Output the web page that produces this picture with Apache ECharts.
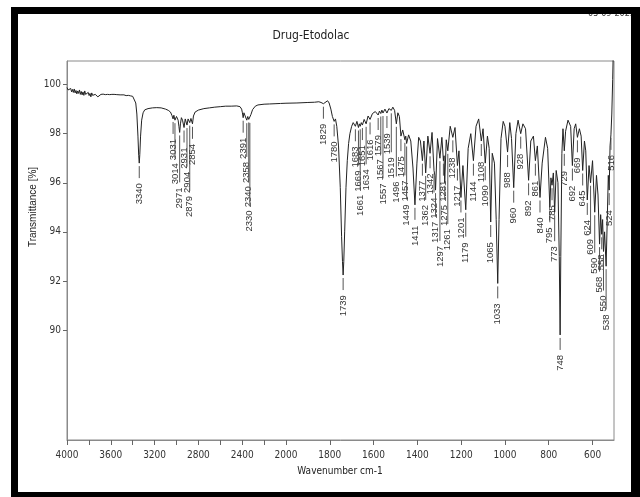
<!DOCTYPE html>
<html><head><meta charset="utf-8">
<script src="https://cdn.jsdelivr.net/npm/echarts@6/dist/echarts.min.js"></script>
<style>html,body{margin:0;padding:0;background:#fff}#c{width:640px;height:497px}</style>
</head><body><div id="c"></div>
<script>
// ---- data (wavenumber cm-1, transmittance %) ----
const wavenumbers = [4000,3990,3982,3974,3966,3958,3950,3942,3934,3926,3918,3910,3902,3894,3886,3878,3870,3862,3854,3846,3838,3830,3822,3814,3806,3798,3790,3782,3774,3766,3758,3750,3742,3734,3726,3718,3710,3700,3690,3680,3670,3660,3650,3640,3630,3620,3610,3600,3590,3580,3570,3560,3545,3530,3515,3500,3480,3460,3440,3420,3400,3385,3372,3362,3352,3345,3340,3335,3328,3318,3305,3290,3260,3220,3180,3140,3100,3075,3055,3042,3031,3024,3014,3000,2985,2978,2971,2964,2955,2945,2931,2920,2912,2904,2894,2886,2879,2868,2854,2845,2830,2800,2750,2700,2650,2600,2550,2500,2450,2420,2405,2398,2391,2384,2372,2358,2349,2340,2335,2330,2320,2305,2280,2256,2200,2150,2100,2050,2000,1950,1900,1870,1850,1840,1829,1820,1810,1803,1795,1788,1780,1774,1768,1760,1752,1746,1742,1739,1736,1732,1726,1720,1714,1708,1700,1693,1683,1676,1669,1665,1661,1656,1651,1643,1634,1625,1616,1605,1592,1579,1573,1567,1562,1557,1548,1539,1530,1524,1519,1512,1504,1496,1489,1482,1475,1467,1457,1453,1449,1440,1430,1420,1411,1402,1394,1386,1377,1370,1362,1352,1342,1333,1324,1320,1317,1308,1297,1288,1281,1278,1275,1268,1261,1250,1238,1228,1217,1210,1201,1192,1179,1168,1156,1144,1132,1120,1108,1100,1090,1080,1072,1065,1058,1048,1040,1033,1027,1018,1008,1000,988,978,970,960,950,940,928,918,906,892,882,870,861,852,840,830,815,805,795,790,785,779,773,766,758,752,748,745,740,735,729,723,712,700,692,684,677,669,660,652,645,637,631,624,616,609,600,590,582,575,568,563,558,554,550,545,538,532,528,524,520,516,512,508,504];
const transmittance = [99.88,99.78,99.86,99.75,99.84,99.70,99.80,99.68,99.82,99.66,99.76,99.62,99.74,99.64,99.78,99.60,99.72,99.58,99.70,99.56,99.74,99.60,99.66,99.52,99.68,99.55,99.64,99.50,99.66,99.56,99.62,99.52,99.60,99.54,99.62,99.50,99.58,99.53,99.60,99.55,99.61,99.54,99.59,99.55,99.60,99.56,99.59,99.55,99.60,99.57,99.60,99.56,99.59,99.56,99.58,99.56,99.58,99.55,99.56,99.54,99.52,99.45,99.25,98.80,97.90,97.10,96.80,97.15,97.90,98.55,98.85,98.97,99.02,99.05,99.06,99.05,99.00,98.95,98.88,98.75,98.60,98.75,98.55,98.70,98.55,98.30,98.05,98.40,98.65,98.55,98.25,98.60,98.55,98.35,98.60,98.55,98.45,98.62,98.40,98.72,98.88,98.96,99.02,99.05,99.08,99.10,99.12,99.12,99.13,99.10,99.00,98.85,98.65,98.85,98.78,98.55,98.70,98.58,98.66,98.56,98.78,98.98,99.12,99.17,99.20,99.21,99.22,99.23,99.24,99.25,99.27,99.28,99.30,99.27,99.22,99.30,99.34,99.25,99.00,98.70,98.50,98.60,98.30,97.50,95.80,93.80,92.80,92.24,92.80,94.00,95.80,96.90,97.60,98.00,98.30,98.45,98.30,98.50,98.25,98.40,98.30,98.45,98.35,98.58,98.40,98.72,98.58,98.82,98.90,98.76,98.92,98.82,98.96,98.84,99.00,98.84,99.02,99.06,98.95,99.08,98.95,98.40,98.85,98.70,97.90,98.15,97.75,97.90,97.60,97.95,97.70,96.60,95.10,96.80,97.85,97.70,96.90,97.70,96.40,97.90,97.20,98.05,96.50,96.30,95.70,97.80,97.00,97.85,96.90,97.10,96.00,97.75,97.30,98.30,97.85,98.25,96.70,97.30,95.40,96.70,94.90,97.40,98.00,96.90,98.30,98.60,97.70,98.20,96.80,97.90,97.40,94.40,97.20,96.80,94.50,91.90,94.50,97.80,98.50,98.30,97.25,98.45,97.80,95.80,98.00,98.55,98.00,98.40,98.20,96.10,97.70,97.90,96.90,97.50,95.40,96.80,97.85,97.40,95.00,96.20,95.90,96.40,94.80,96.50,96.00,93.00,89.80,93.00,97.20,98.20,97.30,98.10,98.55,98.30,96.70,98.20,98.40,97.85,98.20,97.90,96.50,97.70,97.30,95.30,96.70,96.00,96.90,94.80,96.30,95.50,93.50,94.70,93.90,94.50,93.20,94.00,92.60,94.80,96.30,95.70,97.50,97.95,98.80,100.20,102.00];
const peakWavenumbers = [3340,3031,3014,2971,2931,2904,2879,2854,2391,2358,2340,2330,1829,1780,1739,1683,1669,1661,1651,1634,1616,1579,1567,1557,1539,1519,1496,1475,1457,1449,1411,1377,1362,1342,1324,1317,1297,1281,1275,1261,1238,1217,1201,1179,1144,1108,1090,1065,1033,988,960,928,892,861,840,795,785,773,748,729,692,669,645,624,609,590,568,558,550,538,524,516];
const xTickLabels = [4000,3600,3200,2800,2400,2000,1800,1600,1400,1200,1000,800,600];
const xMinorTicks = [3800,3400,3000,2600,2200];
const yTickLabels = [90,92,94,96,98,100];
const chartTitle = 'Drug-Etodolac';
const xName = 'Wavenumber cm-1';
const yName = 'Transmittance [%]';
const stamp = '05-09-2022 10:50';

// axis above 2000 cm-1 is compressed 2:1
function toU(w){ return w > 2000 ? 2000 + (w - 2000) / 2 : w; }
function fromU(u){ return u > 2000 ? 2000 + (u - 2000) * 2 : u; }

const NARROW = '"Liberation Sans Narrow","DejaVu Sans Condensed","Arial Narrow",sans-serif';
const REG = '"Liberation Sans",Arial,sans-serif';

const lineData = wavenumbers.map((w, i) => [toU(w), transmittance[i]]);
const peakData = peakWavenumbers.map(w => [toU(w), transmittance[wavenumbers.indexOf(w)]]);

const GAP = 3, MINLINE = 12, TGAP = 5, DIGIT = 5.3, HSEP = 7, VSEP = 3;
let layoutCache = null;
function computeLayout(api){
  const placed = [], res = [];
  for (let i = 0; i < peakData.length; i++){
    const p = api.coord(peakData[i]);
    const len = String(peakWavenumbers[i]).length * DIGIT;
    let top = p[1] + GAP + MINLINE + TGAP;
    let moved = true;
    while (moved){
      moved = false;
      for (const q of placed){
        if (Math.abs(q.x - p[0]) < HSEP && top < q.bottom + VSEP && top + len > q.top - VSEP){
          top = q.bottom + VSEP; moved = true;
        }
      }
    }
    placed.push({x: p[0], top: top, bottom: top + len});
    res.push({x: p[0], y0: p[1] + GAP, top: top, len: len});
  }
  return res;
}

const chart = echarts.init(document.getElementById('c'), null, {renderer: 'canvas'});
chart.setOption({
  animation: false,
  backgroundColor: '#fff',
  grid: {left: 67, right: 26, top: 61, bottom: 57, show: true, borderColor: '#8a8a8a', borderWidth: 1, backgroundColor: 'transparent'},
  xAxis: {
    type: 'value', inverse: true, min: 502, max: 3000,
    axisLine: {show: true, lineStyle: {color: '#8a8a8a', width: 1}},
    axisTick: {show: true, length: 5, lineStyle: {color: '#666'}, customValues: xTickLabels.concat(xMinorTicks).map(toU)},
    axisLabel: {customValues: xTickLabels.map(toU), formatter: v => String(Math.round(fromU(v))), fontFamily: NARROW, fontSize: 10, color: '#333', margin: 10},
    splitLine: {show: false}
  },
  yAxis: {
    type: 'value', min: 85.52, max: 100.96,
    axisLine: {show: true, lineStyle: {color: '#8a8a8a', width: 1}},
    axisTick: {show: true, length: 4, lineStyle: {color: '#666'}, customValues: yTickLabels},
    axisLabel: {customValues: yTickLabels, fontFamily: NARROW, fontSize: 10, color: '#333', margin: 6},
    splitLine: {show: false}
  },
  graphic: [
    {type: 'text', z: 50, x: 311, y: 36, style: {text: chartTitle, font: '12px ' + NARROW, fill: '#222', align: 'center', verticalAlign: 'middle'}},
    {type: 'text', z: 50, x: 340, y: 471, style: {text: xName, font: '10px ' + NARROW, fill: '#222', align: 'center', verticalAlign: 'middle'}},
    {type: 'text', z: 50, x: 33, y: 207, rotation: Math.PI / 2, style: {text: yName, font: '10px ' + REG, fill: '#222', align: 'center', verticalAlign: 'middle'}},
    {type: 'text', z: 50, x: 588, y: 18, style: {text: stamp, font: '9px ' + NARROW, fill: '#333', align: 'left', verticalAlign: 'bottom'}},
    {type: 'rect', z: 100, shape: {x: 11, y: 7, width: 7, height: 490}, style: {fill: '#000'}},
    {type: 'rect', z: 100, shape: {x: 11, y: 7, width: 629, height: 7}, style: {fill: '#000'}},
    {type: 'rect', z: 100, shape: {x: 631, y: 7, width: 9, height: 490}, style: {fill: '#000'}},
    {type: 'rect', z: 100, shape: {x: 11, y: 492, width: 629, height: 5}, style: {fill: '#000'}}
  ],
  series: [
    {type: 'line', data: lineData, showSymbol: false, symbol: 'none', clip: true, lineStyle: {color: '#222', width: 1}, z: 3},
    {type: 'custom', data: peakData, clip: false, z: 4,
     renderItem: function(params, api){
       if (params.dataIndex === 0 || !layoutCache) layoutCache = computeLayout(api);
       const L = layoutCache[params.dataIndex];
       return {type: 'group', children: [
         {type: 'line', shape: {x1: L.x, y1: L.y0, x2: L.x, y2: L.top - TGAP}, style: {stroke: '#555', lineWidth: 1}},
         {type: 'text', x: L.x, y: L.top + L.len, rotation: Math.PI / 2,
          style: {text: String(peakWavenumbers[params.dataIndex]), font: '9.5px ' + REG, fill: '#333', align: 'left', verticalAlign: 'middle'}}
       ]};
     }}
  ]
});
</script></body></html>
